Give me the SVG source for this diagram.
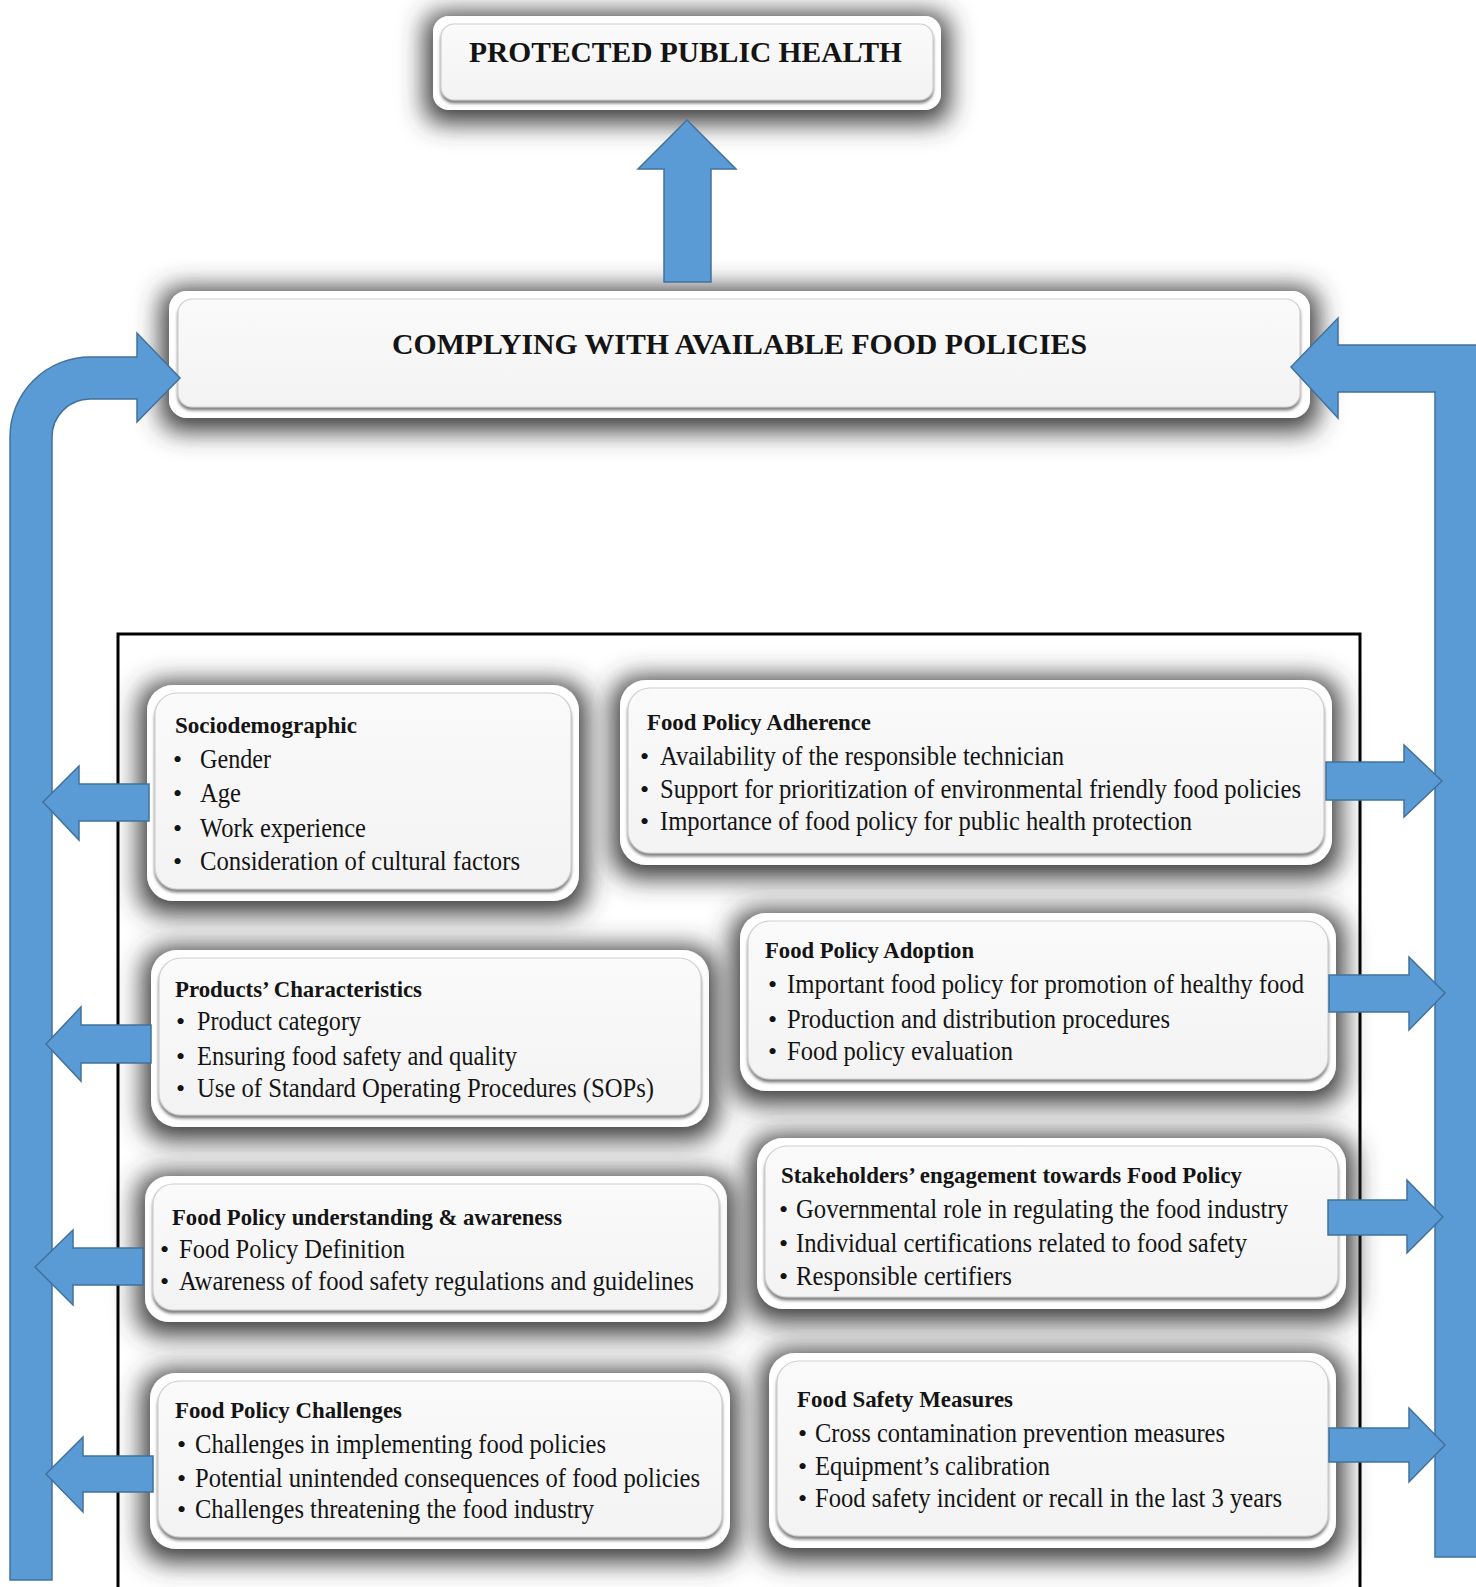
<svg xmlns="http://www.w3.org/2000/svg" width="1476" height="1587" viewBox="0 0 1476 1587">
<style>
.t{font-family:"Liberation Serif","Times New Roman",serif;fill:#141414}
.h{font-weight:bold;font-size:24px}
.i{font-size:27px}
.b{font-size:26px}
.big{font-weight:bold;font-size:30px}
.outer{fill:#ffffff;filter:url(#sh)}
.inner{fill:url(#g);stroke:#cfcfcf;stroke-width:1.2;filter:url(#bev)}
.arr{fill:#5B9BD5;stroke:#41719C;stroke-width:1.5}
.frame{fill:none;stroke:#000;stroke-width:3}
</style>
<defs>
<linearGradient id="g" x1="0" y1="0" x2="0" y2="1">
<stop offset="0" stop-color="#fafafa"/>
<stop offset="1" stop-color="#f3f3f3"/>
</linearGradient>
<filter id="sh" x="-20%" y="-60%" width="140%" height="220%">
<feMorphology in="SourceAlpha" operator="dilate" radius="8"/>
<feGaussianBlur stdDeviation="13"/>
<feOffset dy="5" result="b"/>
<feFlood flood-color="#3a3a3a" flood-opacity="1"/>
<feComposite in2="b" operator="in"/>
<feMerge><feMergeNode/><feMergeNode in="SourceGraphic"/></feMerge>
</filter>
<filter id="bev" x="-5%" y="-10%" width="110%" height="130%">
<feDropShadow dx="0" dy="3" stdDeviation="1.8" flood-color="#707070" flood-opacity="0.9"/>
</filter>
</defs>
<rect width="1476" height="1587" fill="#ffffff"/>

<path id="frame" class="frame" d="M118 1587 V634 H1360 V1587"/>

<g id="protected">
<rect class="outer" x="433" y="16" width="508" height="94" rx="16"/>
<rect class="inner" x="441" y="24" width="492" height="76" rx="13"/>
<text class="t big" x="469" y="62" textLength="433" lengthAdjust="spacingAndGlyphs">PROTECTED PUBLIC HEALTH</text>
</g>

<g id="complying">
<rect class="outer" x="169" y="291" width="1141" height="127" rx="18"/>
<rect class="inner" x="178" y="299" width="1122" height="108" rx="14"/>
<text class="t big" x="392" y="354" textLength="695" lengthAdjust="spacingAndGlyphs">COMPLYING WITH AVAILABLE FOOD POLICIES</text>
</g>

<g id="sociodemographic">
<rect class="outer" x="147" y="685" width="432" height="216" rx="26"/>
<rect class="inner" x="155" y="693" width="416" height="196" rx="22"/>
<text class="t h" x="175" y="733" textLength="182" lengthAdjust="spacingAndGlyphs">Sociodemographic</text>
<text class="t b" x="173" y="768">•</text>
<text class="t i" x="200" y="768" textLength="71" lengthAdjust="spacingAndGlyphs">Gender</text>
<text class="t b" x="173" y="802">•</text>
<text class="t i" x="200" y="802" textLength="41" lengthAdjust="spacingAndGlyphs">Age</text>
<text class="t b" x="173" y="837">•</text>
<text class="t i" x="200" y="837" textLength="166" lengthAdjust="spacingAndGlyphs">Work experience</text>
<text class="t b" x="173" y="870">•</text>
<text class="t i" x="200" y="870" textLength="320" lengthAdjust="spacingAndGlyphs">Consideration  of cultural factors</text>
</g>

<g id="products">
<rect class="outer" x="151" y="950" width="558" height="177" rx="26"/>
<rect class="inner" x="159" y="958" width="542" height="157" rx="22"/>
<text class="t h" x="175" y="997" textLength="247" lengthAdjust="spacingAndGlyphs">Products’ Characteristics</text>
<text class="t b" x="176" y="1030">•</text>
<text class="t i" x="197" y="1030" textLength="164" lengthAdjust="spacingAndGlyphs">Product category</text>
<text class="t b" x="176" y="1065">•</text>
<text class="t i" x="197" y="1065" textLength="320" lengthAdjust="spacingAndGlyphs">Ensuring food safety and quality</text>
<text class="t b" x="176" y="1097">•</text>
<text class="t i" x="197" y="1097" textLength="457" lengthAdjust="spacingAndGlyphs">Use of Standard Operating Procedures (SOPs)</text>
</g>

<g id="understanding">
<rect class="outer" x="145" y="1176" width="582" height="146" rx="24"/>
<rect class="inner" x="153" y="1184" width="566" height="126" rx="20"/>
<text class="t h" x="172" y="1225" textLength="390" lengthAdjust="spacingAndGlyphs">Food Policy understanding &amp; awareness</text>
<text class="t b" x="160" y="1258">•</text>
<text class="t i" x="179" y="1258" textLength="226" lengthAdjust="spacingAndGlyphs">Food Policy Definition</text>
<text class="t b" x="160" y="1290">•</text>
<text class="t i" x="179" y="1290" textLength="515" lengthAdjust="spacingAndGlyphs">Awareness  of food safety regulations and guidelines</text>
</g>

<g id="challenges">
<rect class="outer" x="150" y="1373" width="580" height="176" rx="26"/>
<rect class="inner" x="158" y="1381" width="564" height="156" rx="22"/>
<text class="t h" x="175" y="1418" textLength="227" lengthAdjust="spacingAndGlyphs">Food Policy Challenges</text>
<text class="t b" x="177" y="1453">•</text>
<text class="t i" x="195" y="1453" textLength="411" lengthAdjust="spacingAndGlyphs">Challenges  in implementing  food policies</text>
<text class="t b" x="177" y="1487">•</text>
<text class="t i" x="195" y="1487" textLength="505" lengthAdjust="spacingAndGlyphs">Potential  unintended  consequences  of food policies</text>
<text class="t b" x="177" y="1518">•</text>
<text class="t i" x="195" y="1518" textLength="399" lengthAdjust="spacingAndGlyphs">Challenges  threatening  the  food industry</text>
</g>

<g id="adherence">
<rect class="outer" x="620" y="680" width="712" height="185" rx="26"/>
<rect class="inner" x="628" y="688" width="696" height="165" rx="22"/>
<text class="t h" x="647" y="730" textLength="224" lengthAdjust="spacingAndGlyphs">Food Policy Adherence</text>
<text class="t b" x="640" y="765">•</text>
<text class="t i" x="660" y="765" textLength="404" lengthAdjust="spacingAndGlyphs">Availability  of the responsible  technician</text>
<text class="t b" x="640" y="798">•</text>
<text class="t i" x="660" y="798" textLength="641" lengthAdjust="spacingAndGlyphs">Support for prioritization of environmental  friendly food policies</text>
<text class="t b" x="640" y="830">•</text>
<text class="t i" x="660" y="830" textLength="532" lengthAdjust="spacingAndGlyphs">Importance  of food policy  for public health protection</text>
</g>

<g id="adoption">
<rect class="outer" x="740" y="913" width="596" height="178" rx="26"/>
<rect class="inner" x="748" y="921" width="580" height="158" rx="22"/>
<text class="t h" x="765" y="958" textLength="209" lengthAdjust="spacingAndGlyphs">Food Policy Adoption</text>
<text class="t b" x="768" y="993">•</text>
<text class="t i" x="787" y="993" textLength="517" lengthAdjust="spacingAndGlyphs">Important food policy for promotion of healthy food</text>
<text class="t b" x="768" y="1028">•</text>
<text class="t i" x="787" y="1028" textLength="383" lengthAdjust="spacingAndGlyphs">Production  and distribution  procedures</text>
<text class="t b" x="768" y="1060">•</text>
<text class="t i" x="787" y="1060" textLength="226" lengthAdjust="spacingAndGlyphs">Food policy  evaluation</text>
</g>

<g id="stakeholders">
<rect class="outer" x="757" y="1138" width="589" height="171" rx="26"/>
<rect class="inner" x="765" y="1146" width="573" height="151" rx="22"/>
<text class="t h" x="781" y="1183" textLength="461" lengthAdjust="spacingAndGlyphs">Stakeholders’ engagement towards Food Policy</text>
<text class="t b" x="779" y="1218">•</text>
<text class="t i" x="796" y="1218" textLength="492" lengthAdjust="spacingAndGlyphs">Governmental  role in regulating  the food industry</text>
<text class="t b" x="779" y="1252">•</text>
<text class="t i" x="796" y="1252" textLength="451" lengthAdjust="spacingAndGlyphs">Individual  certifications related to food safety</text>
<text class="t b" x="779" y="1285">•</text>
<text class="t i" x="796" y="1285" textLength="216" lengthAdjust="spacingAndGlyphs">Responsible  certifiers</text>
</g>

<g id="safety">
<rect class="outer" x="769" y="1353" width="567" height="195" rx="26"/>
<rect class="inner" x="777" y="1361" width="551" height="175" rx="22"/>
<text class="t h" x="797" y="1407" textLength="216" lengthAdjust="spacingAndGlyphs">Food Safety Measures</text>
<text class="t b" x="798" y="1442">•</text>
<text class="t i" x="815" y="1442" textLength="410" lengthAdjust="spacingAndGlyphs">Cross contamination  prevention measures</text>
<text class="t b" x="798" y="1475">•</text>
<text class="t i" x="815" y="1475" textLength="235" lengthAdjust="spacingAndGlyphs">Equipment’s calibration</text>
<text class="t b" x="798" y="1507">•</text>
<text class="t i" x="815" y="1507" textLength="467" lengthAdjust="spacingAndGlyphs">Food safety  incident or recall in the last 3 years</text>
</g>

<g id="connectors">
<path class="arr" d="M664 282 V169 H638 L687 120 L736 169 H711 V282 Z"/>
<path class="arr" d="M10 1580 V437 A80 80 0 0 1 90 357 H137 V333 L180 378 L137 422 V399 H90 A38 38 0 0 0 52 437 V1580 Z"/>
<path class="arr" d="M1477 345 H1338 V318 L1291 367 L1338 418 V392 H1435 V1557 H1477 Z"/>
<path class="arr" d="M149 784 V821 H79 V840 L43 802 L79 766 V784 Z"/>
<path class="arr" d="M151 1025 V1063 H81 V1081 L46 1044 L81 1007 V1025 Z"/>
<path class="arr" d="M143 1248 V1285 H73 V1305 L35 1267 L73 1230 V1248 Z"/>
<path class="arr" d="M153 1456 V1492 H83 V1512 L46 1474 L83 1437 V1456 Z"/>
<path class="arr" d="M1326 762 H1404 V745 L1442 781 L1404 817 V800 H1326 Z"/>
<path class="arr" d="M1329 975 H1409 V957 L1445 993 L1409 1030 V1012 H1329 Z"/>
<path class="arr" d="M1328 1200 H1407 V1180 L1443 1217 L1407 1253 V1235 H1328 Z"/>
<path class="arr" d="M1329 1428 H1409 V1408 L1445 1445 L1409 1482 V1462 H1329 Z"/>
</g>
</svg>
